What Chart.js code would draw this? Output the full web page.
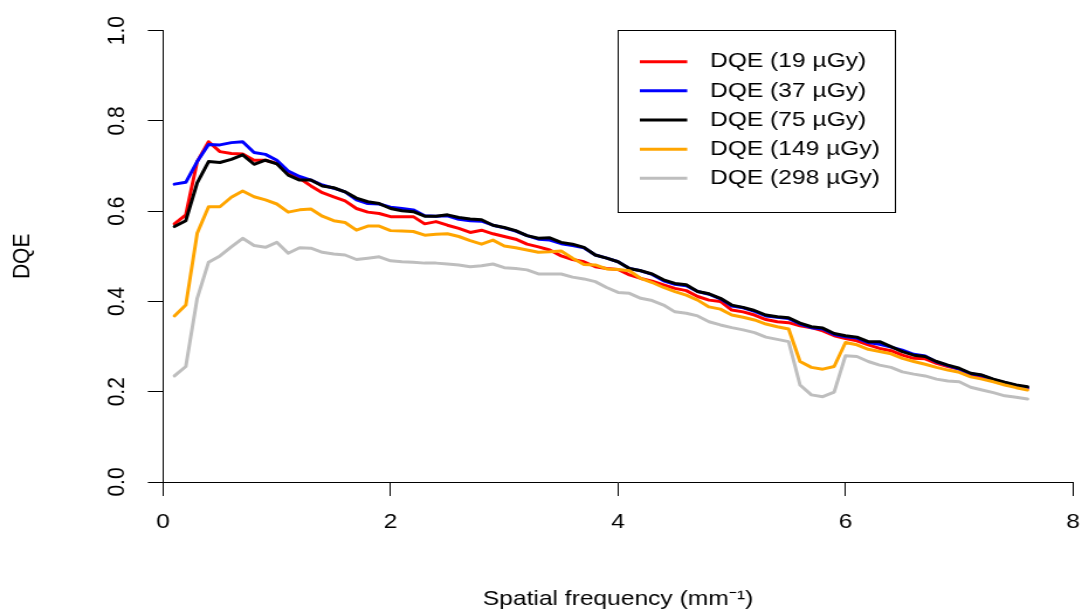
<!DOCTYPE html>
<html>
<head>
<meta charset="utf-8">
<script src="https://cdn.jsdelivr.net/npm/chart.js@4.4.1/dist/chart.umd.min.js"></script>
<style>
  html, body { margin: 0; padding: 0; background: #fff; overflow: hidden; }
</style>
</head>
<body>
<!-- the original figure is wider than tall in text, so draw narrow and stretch -->
<canvas id="c" width="925" height="614" style="width:1082px;height:614px;display:block"></canvas>
<script>
const freq = [0.1,0.2,0.3,0.4,0.5,0.6,0.7,0.8,0.9,1.0,1.1,1.2,1.3,1.4,1.5,1.6,1.7,1.8,1.9,2.0,
  2.1,2.2,2.3,2.4,2.5,2.6,2.7,2.8,2.9,3.0,3.1,3.2,3.3,3.4,3.5,3.6,3.7,3.8,3.9,4.0,
  4.1,4.2,4.3,4.4,4.5,4.6,4.7,4.8,4.9,5.0,5.1,5.2,5.3,5.4,5.5,5.6,5.7,5.8,5.9,6.0,
  6.1,6.2,6.3,6.4,6.5,6.6,6.7,6.8,6.9,7.0,7.1,7.2,7.3,7.4,7.5,7.6];

const dqe19 = [0.572,0.592,0.710,0.754,0.732,0.728,0.727,0.713,0.713,0.706,0.684,0.673,0.656,0.641,0.632,0.623,0.606,0.598,0.595,0.588,
  0.588,0.588,0.572,0.577,0.569,0.562,0.553,0.558,0.550,0.544,0.538,0.527,0.521,0.514,0.501,0.493,0.488,0.477,0.473,0.471,
  0.459,0.451,0.445,0.437,0.429,0.424,0.411,0.403,0.400,0.381,0.377,0.370,0.360,0.355,0.353,0.346,0.342,0.335,0.324,0.318,
  0.313,0.304,0.296,0.291,0.281,0.274,0.273,0.263,0.256,0.250,0.237,0.233,0.226,0.219,0.213,0.208];
const dqe37 = [0.660,0.664,0.710,0.748,0.747,0.752,0.754,0.730,0.726,0.713,0.689,0.677,0.669,0.658,0.651,0.643,0.625,0.617,0.616,0.609,
  0.606,0.603,0.590,0.589,0.590,0.582,0.579,0.578,0.569,0.563,0.556,0.546,0.538,0.536,0.528,0.524,0.519,0.503,0.496,0.488,
  0.473,0.468,0.460,0.446,0.438,0.435,0.422,0.416,0.406,0.390,0.386,0.378,0.368,0.365,0.362,0.350,0.342,0.339,0.327,0.322,
  0.319,0.309,0.305,0.299,0.292,0.283,0.279,0.266,0.258,0.250,0.240,0.236,0.227,0.220,0.214,0.209];
const dqe75 = [0.566,0.579,0.663,0.710,0.708,0.715,0.725,0.704,0.713,0.705,0.680,0.669,0.669,0.656,0.652,0.643,0.629,0.621,0.617,0.606,
  0.601,0.599,0.589,0.589,0.592,0.586,0.583,0.581,0.569,0.564,0.557,0.546,0.540,0.541,0.531,0.527,0.520,0.503,0.496,0.488,
  0.473,0.468,0.461,0.448,0.440,0.437,0.422,0.417,0.407,0.392,0.387,0.380,0.370,0.366,0.364,0.352,0.344,0.341,0.329,0.324,
  0.321,0.311,0.311,0.300,0.289,0.281,0.278,0.267,0.259,0.252,0.241,0.237,0.228,0.221,0.215,0.211];
const dqe149 = [0.368,0.392,0.551,0.610,0.610,0.631,0.645,0.632,0.625,0.616,0.598,0.603,0.605,0.589,0.579,0.575,0.558,0.567,0.567,0.557,
  0.556,0.555,0.547,0.549,0.550,0.544,0.535,0.527,0.536,0.523,0.519,0.514,0.509,0.510,0.512,0.496,0.482,0.481,0.472,0.471,
  0.468,0.451,0.442,0.431,0.422,0.414,0.403,0.388,0.383,0.370,0.365,0.359,0.350,0.344,0.339,0.267,0.254,0.250,0.256,0.309,
  0.304,0.294,0.289,0.284,0.274,0.267,0.261,0.254,0.248,0.243,0.233,0.228,0.222,0.215,0.209,0.204];
const dqe298 = [0.235,0.256,0.407,0.487,0.501,0.521,0.540,0.524,0.520,0.531,0.507,0.519,0.518,0.509,0.505,0.503,0.493,0.496,0.499,0.490,
  0.488,0.487,0.485,0.485,0.483,0.481,0.477,0.479,0.483,0.475,0.473,0.470,0.461,0.461,0.461,0.454,0.450,0.444,0.431,0.420,
  0.418,0.407,0.402,0.392,0.377,0.374,0.368,0.355,0.348,0.342,0.337,0.331,0.321,0.316,0.311,0.215,0.193,0.189,0.199,0.280,
  0.278,0.267,0.259,0.254,0.244,0.239,0.235,0.228,0.224,0.222,0.210,0.204,0.198,0.191,0.188,0.184];

const seriesNames = ['DQE (19 µGy)', 'DQE (37 µGy)', 'DQE (75 µGy)', 'DQE (149 µGy)', 'DQE (298 µGy)'];
const seriesData = [dqe19, dqe37, dqe75, dqe149, dqe298];
const seriesColors = ['#ff0000', '#0000ff', '#000000', '#ffa500', '#bebebe'];

const FONT = {family: "'Liberation Sans', Arial, sans-serif", size: 21};

// R style legend box in the top right
const boxLegend = {
  id: 'boxLegend',
  afterDraw(chart) {
    const ctx = chart.ctx;
    const ds = chart.data.datasets;
    ctx.save();
    ctx.strokeStyle = '#000';
    ctx.lineWidth = 1;
    ctx.strokeRect(528.5, 30.5, 237, 182);
    ctx.font = FONT.size + 'px ' + FONT.family;
    ctx.textBaseline = 'middle';
    ctx.fillStyle = '#000';
    ds.forEach((d, i) => {
      const y = 61.7 + i * 29.15;
      ctx.strokeStyle = d.borderColor;
      ctx.lineWidth = 3;
      ctx.beginPath();
      ctx.moveTo(547, y);
      ctx.lineTo(587.5, y);
      ctx.stroke();
      ctx.fillText(d.label, 607, y);
    });
    ctx.restore();
  }
};

new Chart(document.getElementById('c'), {
  type: 'line',
  data: {
    datasets: seriesNames.map((name, i) => ({
      label: name,
      data: freq.map((f, j) => ({x: f, y: seriesData[i][j]})),
      borderColor: seriesColors[i],
      borderWidth: 3,
      borderJoinStyle: 'round',
      borderCapStyle: 'round',
      pointRadius: 0,
      fill: false,
      tension: 0,
      order: 5 - i
    }))
  },
  options: {
    responsive: false,
    animation: false,
    events: [],
    layout: {padding: {top: 30.7, right: 7.7, left: 0, bottom: 0}},
    plugins: {legend: {display: false}, tooltip: {enabled: false}},
    scales: {
      x: {
        type: 'linear',
        min: 0, max: 8,
        afterFit(s) { s.height = 132; s.paddingLeft = 0; s.paddingRight = 0; },
        border: {display: true, color: '#000', width: 1},
        grid: {drawOnChartArea: false, drawTicks: true, tickLength: 14, tickColor: '#000', color: '#000'},
        ticks: {stepSize: 2, color: '#000', font: FONT, padding: 14, maxRotation: 0, autoSkip: false},
        title: {display: true, text: 'Spatial frequency (mm\u207B\u00B9)', color: '#000', font: FONT, padding: {top: 0, bottom: 2}}
      },
      y: {
        min: 0, max: 1,
        afterFit(s) { s.width = 139.4; s.paddingTop = 0; s.paddingBottom = 0; },
        border: {display: true, color: '#000', width: 1},
        grid: {drawOnChartArea: false, drawTicks: true, tickLength: 13, tickColor: '#000', color: '#000'},
        ticks: {stepSize: 0.2, color: '#000', font: FONT, padding: 12, minRotation: 90, maxRotation: 90,
          crossAlign: 'center', callback: v => v.toFixed(1)},
        title: {display: true, text: 'DQE', color: '#000', font: FONT, padding: {top: 7, bottom: 0}}
      }
    }
  },
  plugins: [boxLegend]
});
</script>
</body>
</html>
